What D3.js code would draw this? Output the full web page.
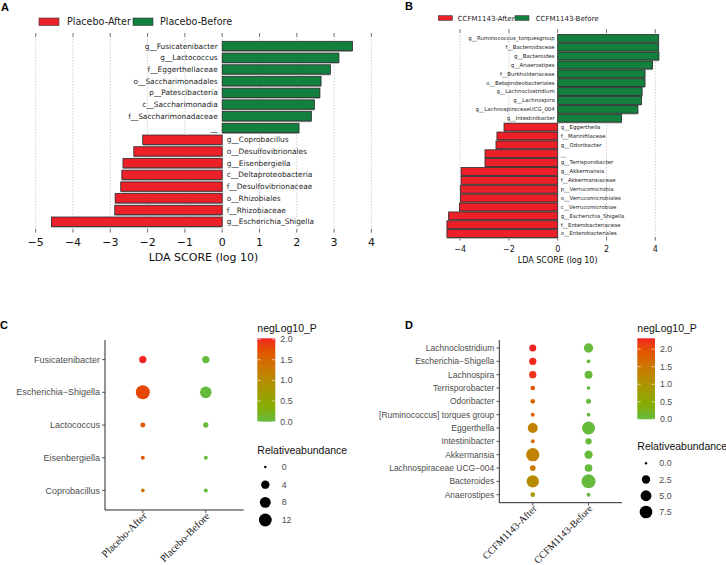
<!DOCTYPE html>
<html><head><meta charset="utf-8">
<script src="https://cdn.jsdelivr.net/npm/d3@7"></script>
<style>body{margin:0;background:#fff}</style>
</head><body>
<svg id="c" width="726" height="565" xmlns="http://www.w3.org/2000/svg"></svg>
<script>
// ---------- DATA ----------
const aGroups = ["Placebo-After", "Placebo-Before"];
const aLabels = ["g__Fusicatenibacter","g__Lactococcus","f__Eggerthellaceae","o__Saccharimonadales","p__Patescibacteria","c__Saccharimonadia","f__Saccharimonadaceae","__","g__Coprobacillus","o__Desulfovibrionales","g__Eisenbergiella","c__Deltaproteobacteria","f__Desulfovibrionaceae","o__Rhizobiales","f__Rhizobiaceae","g__Escherichia_Shigella"];
const aScores = [3.49,3.13,2.90,2.65,2.62,2.47,2.39,2.06,-2.13,-2.37,-2.66,-2.69,-2.72,-2.87,-2.88,-4.58];
const aTicks = [-5,-4,-3,-2,-1,0,1,2,3,4];

const bGroups = ["CCFM1143-After", "CCFM1143-Before"];
const bLabels = ["g__Ruminococcus_torquesgroup","f__Bacteroidaceae","g__Bacteroides","g__Anaerostipes","f__Burkholderiaceae","o__Betaproteobacteriales","g__Lachnoclostridium","g__Lachnospira","g__LachnospiraceaeUCG_004","g__Intestinibacter","g__Eggerthella","f__Marinifilaceae","g__Odoribacter","__","g__Terrisporobacter","g__Akkermansia","f__Akkermansiaceae","p__Verrucomicrobia","o__Verrucomicrobiales","c__Verrucomicrobiae","g__Escherichia_Shigella","f__Enterobacteriaceae","o__Enterobacteriales"];
const bScores = [4.14,4.14,4.15,3.89,3.58,3.58,3.46,3.44,3.29,2.62,-2.20,-2.49,-2.53,-2.98,-2.98,-3.96,-3.96,-3.99,-3.99,-4.03,-4.47,-4.54,-4.54];
const bTicks = [-4,-2,0,2,4];

const cGroups = ["Placebo-After", "Placebo-Before"];
const cTaxa = ["Fusicatenibacter","Escherichia\u2212Shigella","Lactococcus","Eisenbergiella","Coprobacillus"];
const cAbundAfter  = [2.7, 15.0, 0.75, 0.28, 0.19];
const cAbundBefore = [2.7, 9.6, 0.94, 0.28, 0.28];
const cLogPAfter   = [2.02, 1.80, 1.65, 1.65, 1.35];
const cLogPBefore  = [0, 0, 0, 0, 0];
const cColorTicks = [0, 0.5, 1.0, 1.5, 2.0];
const cSizeTicks = [0, 4, 8, 12];

const dGroups = ["CCFM1143-After", "CCFM1143-Before"];
const dTaxa = ["Lachnoclostridium","Escherichia\u2212Shigella","Lachnospira","Terrisporobacter","Odoribacter","[Ruminococcus] torques group","Eggerthella","Intestinibacter","Akkermansia","Lachnospiraceae UCG\u2212004","Bacteroides","Anaerostipes"];
const dAbundAfter  = [1.5, 1.7, 1.7, 0.37, 0.37, 0.18, 4.1, 0.18, 8.4, 0.77, 6.9, 0.37];
const dAbundBefore = [3.4, 0.15, 2.2, 0.12, 0.48, 0.12, 7.9, 1.07, 2.46, 1.98, 9.5, 0.18];
const dLogPAfter   = [2.31, 2.28, 2.22, 1.90, 1.75, 1.75, 1.30, 1.65, 1.30, 1.45, 1.15, 0.85];
const dLogPBefore  = [0,0,0,0,0,0,0,0,0,0,0,0];
const dColorTicks = [0, 0.5, 1.0, 1.5, 2.0];
const dSizeTicks = [0, 2.5, 5.0, 7.5];

// ---------- STYLE ----------
const RED = "#ec2029", GREEN = "#14803f";
const LOW = "#66bb3d", HIGH = "#f02424";
const svg = d3.select("#c");
svg.append("rect").attr("width",726).attr("height",565).attr("fill","#fff");

function panelLetter(t, x, y){
  svg.append("text").attr("x",x).attr("y",y).text(t)
    .attr("font-family","Liberation Sans, Arial, sans-serif").attr("font-weight","bold").attr("font-size",11);
}

function ldaPanel(o){
  const g = svg.append("g");
  const x = d3.scaleLinear().domain(o.xDomain).range(o.xRange);
  const y = d3.scaleBand().domain(o.labels).range(o.yRange).paddingInner(o.padIn).paddingOuter(o.padOut);
  g.selectAll(".grid").data(o.ticks).join("line")
    .attr("x1",d=>x(d)).attr("x2",d=>x(d)).attr("y1",o.gTop).attr("y2",o.gBot)
    .attr("stroke","#9a9a9a").attr("stroke-width",0.7).attr("stroke-dasharray","1,2");
  g.selectAll(".tt").data(o.ticks).join("line")
    .attr("x1",d=>x(d)).attr("x2",d=>x(d)).attr("y1",o.gTop).attr("y2",o.gTop+3.5)
    .attr("stroke","#555").attr("stroke-width",0.8);
  g.selectAll(".tb").data(o.ticks).join("line")
    .attr("x1",d=>x(d)).attr("x2",d=>x(d)).attr("y1",o.gBot-3.5).attr("y2",o.gBot)
    .attr("stroke","#555").attr("stroke-width",0.8);
  const rows = o.labels.map((l,i)=>({l, v:o.scores[i]}));
  g.selectAll(".sh").data(rows).join("rect")
    .attr("x",d=>Math.min(x(0),x(d.v))).attr("y",d=>y(d.l)+1.3)
    .attr("width",d=>Math.abs(x(d.v)-x(0))).attr("height",y.bandwidth())
    .attr("fill","#a8a8a8");
  g.selectAll(".bar").data(rows).join("rect")
    .attr("x",d=>Math.min(x(0),x(d.v))).attr("y",d=>y(d.l))
    .attr("width",d=>Math.abs(x(d.v)-x(0))).attr("height",y.bandwidth())
    .attr("fill",d=>d.v<0?RED:GREEN).attr("stroke","#2b2b2b").attr("stroke-width",0.8);
  g.selectAll(".lab").data(rows).join("text")
    .attr("x",d=>d.v>0 ? x(0)-o.labOff : x(0)+o.labOff)
    .attr("y",d=>y(d.l)+y.bandwidth()/2).attr("dy","0.35em")
    .attr("text-anchor",d=>d.v>0?"end":"start")
    .attr("font-family","DejaVu Sans, sans-serif").attr("font-size",o.labSize).attr("fill","#222")
    .text(d=>d.l);
  g.selectAll(".tl").data(o.ticks).join("text")
    .attr("x",d=>x(d)).attr("y",o.tlY).attr("text-anchor","middle")
    .attr("font-family","DejaVu Sans, sans-serif").attr("font-size",o.tlSize).attr("fill","#111")
    .text(d=>d<0?"\u2212"+Math.abs(d):d);
  g.append("text").attr("x",o.titleX).attr("y",o.titleY).attr("text-anchor","middle")
    .attr("font-family","DejaVu Sans, sans-serif").attr("font-size",o.tlSize).attr("fill","#111")
    .text("LDA SCORE (log 10)");
  const lg = o.legend;
  o.groups.forEach((name,i)=>{
    g.append("rect").attr("x",lg.rx[i]).attr("y",lg.ry).attr("width",lg.rw).attr("height",lg.rh)
      .attr("fill",i===0?RED:GREEN).attr("stroke","#333").attr("stroke-width",0.6);
    g.append("text").attr("x",lg.tx[i]).attr("y",lg.ty).text(name)
      .attr("font-family","DejaVu Sans, sans-serif").attr("font-size",lg.fs).attr("fill","#222");
  });
}

ldaPanel({labels:aLabels, scores:aScores, ticks:aTicks, groups:aGroups,
  xDomain:[-5,4], xRange:[35.7,371.4], yRange:[40.15,227.55], padIn:0.2, padOut:0.1,
  gTop:33.3, gBot:232.5, labOff:4.5, labSize:7.4, tlY:246, tlSize:11, titleX:203.5, titleY:261,
  legend:{rx:[39,133], ry:18, rw:20, rh:7.5, tx:[67,160], ty:25.3, fs:9.6}});

ldaPanel({labels:bLabels, scores:bScores, ticks:bTicks, groups:bGroups,
  xDomain:[-5,5], xRange:[435.7,679.7], yRange:[33.86,238.04], padIn:0.12, padOut:0.06,
  gTop:29.3, gBot:240.5, labOff:3, labSize:5.4, tlY:251.5, tlSize:8, titleX:557.7, titleY:262.5,
  legend:{rx:[438.3,515], ry:15.7, rw:14, rh:4.6, tx:[457.7,535.7], ty:20.8, fs:7}});

function bubblePanel(o){
  const g = svg.append("g");
  const y = d3.scalePoint().domain(o.taxa).range([o.top,o.bot]).padding(0.6);
  const x = d3.scalePoint().domain(o.groups).range([o.left,o.right]).padding(0.6);
  const r = d3.scaleSqrt().domain([0,o.sizeMax]).range([1.2,7.0]);
  const col = d3.scaleLinear().domain([0,o.colMax]).range([LOW,HIGH]).interpolate(d3.interpolateHcl);
  const pts = [];
  o.taxa.forEach((t,i)=>{
    pts.push({t, gr:o.groups[0], a:o.abA[i], p:o.pA[i]});
    pts.push({t, gr:o.groups[1], a:o.abB[i], p:o.pB[i]});
  });
  g.selectAll("circle.pt").data(pts).join("circle")
    .attr("cx",d=>x(d.gr)).attr("cy",d=>y(d.t)).attr("r",d=>r(d.a)).attr("fill",d=>col(d.p));
  g.append("line").attr("x1",o.left).attr("x2",o.left).attr("y1",o.top).attr("y2",o.bot).attr("stroke","#111").attr("stroke-width",0.9);
  g.append("line").attr("x1",o.left).attr("x2",o.right).attr("y1",o.bot).attr("y2",o.bot).attr("stroke","#111").attr("stroke-width",0.9);
  g.selectAll(".yt").data(o.taxa).join("line").attr("x1",o.left-3).attr("x2",o.left)
    .attr("y1",d=>y(d)).attr("y2",d=>y(d)).attr("stroke","#333").attr("stroke-width",0.8);
  g.selectAll(".xt").data(o.groups).join("line").attr("x1",d=>x(d)).attr("x2",d=>x(d))
    .attr("y1",o.bot).attr("y2",o.bot+3).attr("stroke","#333").attr("stroke-width",0.8);
  g.selectAll(".yl").data(o.taxa).join("text").attr("x",o.left-5).attr("y",d=>y(d)).attr("dy","0.35em")
    .attr("text-anchor","end").attr("font-family","Liberation Sans, Arial, sans-serif")
    .attr("font-size",o.yfs).attr("fill","#4d4d4d").text(d=>d);
  g.selectAll(".xl").data(o.groups).join("text")
    .attr("transform",d=>`translate(${x(d)+2},${o.bot+4}) rotate(-45)`)
    .attr("text-anchor","end").attr("dy","0.35em")
    .attr("font-family","Liberation Serif, Times New Roman, serif").attr("font-size",o.xfs).attr("fill","#111")
    .text(d=>d);
  const cb = o.cbar;
  g.append("text").attr("x",cb.x).attr("y",cb.titleY).text("negLog10_P")
    .attr("font-family","Liberation Sans, Arial, sans-serif").attr("font-size",10.5).attr("fill","#111");
  const gid = "grad"+o.id;
  const grad = svg.append("defs").append("linearGradient").attr("id",gid)
    .attr("x1",0).attr("y1",1).attr("x2",0).attr("y2",0);
  d3.range(0,1.0001,0.05).forEach(t=>grad.append("stop").attr("offset",t).attr("stop-color",col(t*o.colMax)));
  const cy = d3.scaleLinear().domain([0,o.colMax]).range([cb.bot,cb.top]);
  g.append("rect").attr("x",cb.x).attr("y",cb.top).attr("width",cb.w).attr("height",cb.bot-cb.top).attr("fill",`url(#${gid})`);
  g.selectAll(".cbt").data(o.colTicks).join("line").attr("x1",cb.x).attr("x2",cb.x+3.5)
    .attr("y1",d=>cy(d)).attr("y2",d=>cy(d)).attr("stroke","#fff").attr("stroke-width",0.6);
  g.selectAll(".cbt2").data(o.colTicks).join("line").attr("x1",cb.x+cb.w-3.5).attr("x2",cb.x+cb.w)
    .attr("y1",d=>cy(d)).attr("y2",d=>cy(d)).attr("stroke","#fff").attr("stroke-width",0.6);
  g.selectAll(".cbl").data(o.colTicks).join("text").attr("x",cb.x+cb.w+5).attr("y",d=>cy(d)).attr("dy","0.35em")
    .attr("font-family","Liberation Sans, Arial, sans-serif").attr("font-size",8.8).attr("fill","#4d4d4d")
    .text(d=>d.toFixed(1));
  const sl = o.slegend;
  g.append("text").attr("x",cb.x).attr("y",sl.titleY).text("Relativeabundance")
    .attr("font-family","Liberation Sans, Arial, sans-serif").attr("font-size",10.5).attr("fill","#111");
  const sy = d3.scalePoint().domain(o.sizeTicks).range([sl.y0,sl.y1]);
  g.selectAll(".sd").data(o.sizeTicks).join("circle").attr("cx",sl.cx).attr("cy",d=>sy(d)).attr("r",d=>r(d)).attr("fill","#000");
  g.selectAll(".sdl").data(o.sizeTicks).join("text").attr("x",sl.lx).attr("y",d=>sy(d)).attr("dy","0.35em")
    .attr("font-family","Liberation Sans, Arial, sans-serif").attr("font-size",8.8).attr("fill","#4d4d4d")
    .text(d=>o.sizeFmt(d));
}

bubblePanel({id:"C", taxa:cTaxa, groups:cGroups, abA:cAbundAfter, abB:cAbundBefore, pA:cLogPAfter, pB:cLogPBefore,
  top:340, bot:510, left:105, right:243.6, sizeMax:15, colMax:2.02, yfs:9, xfs:10.5, colTicks:cColorTicks, sizeTicks:cSizeTicks,
  sizeFmt:d=>String(d),
  cbar:{x:257.3, w:18, top:338.3, bot:421.7, titleY:332},
  slegend:{titleY:454, y0:467, y1:520, cx:265.3, lx:281.7}});

bubblePanel({id:"D", taxa:dTaxa, groups:dGroups, abA:dAbundAfter, abB:dAbundBefore, pA:dLogPAfter, pB:dLogPBefore,
  top:340, bot:502.7, left:499.3, right:622, sizeMax:9.5, colMax:2.31, yfs:8.5, xfs:10, colTicks:dColorTicks, sizeTicks:dSizeTicks,
  sizeFmt:d=>d.toFixed(1),
  cbar:{x:637.3, w:17.7, top:338.3, bot:419.3, titleY:332},
  slegend:{titleY:450, y0:463.3, y1:512, cx:646, lx:659.3}});

panelLetter("A", 1, 10.7);
panelLetter("B", 405, 10);
panelLetter("C", 0, 329);
panelLetter("D", 405, 329);
</script>
</body></html>
